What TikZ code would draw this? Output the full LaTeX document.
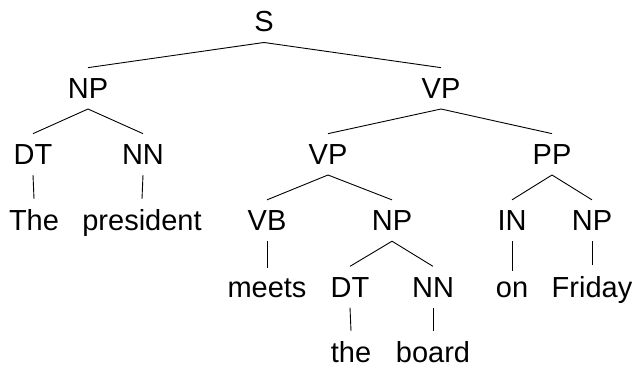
\documentclass[tikz,border=0pt]{standalone}
\usepackage{fontspec}
\setmainfont{Liberation Sans}
\begin{document}
\begin{tikzpicture}[x=1pt,y=1pt,
  lbl/.style={anchor=base,inner sep=10.5pt,font=\fontsize{29}{31}\selectfont},
  edge/.style={line width=0.9pt}]
\useasboundingbox (0,0) rectangle (634,365);
% rows (baselines in y)
\def\ra{333.5}\def\rb{266.7}\def\rc{200.7}\def\rd{134.5}\def\re{68}\def\rf{2.5}
\node[lbl] (S) at (264,\ra) {S};
\node[lbl] (NP) at (88,\rb) {NP};
\node[lbl] (VP) at (441,\rb) {VP};
\node[lbl] (DT) at (33,\rc) {DT};
\node[lbl] (NN) at (143,\rc) {NN};
\node[lbl] (VPb) at (328,\rc) {VP};
\node[lbl] (PP) at (552,\rc) {PP};
\node[lbl] (The) at (34,\rd) {The};
\node[lbl] (pres) at (142,\rd) {president};
\node[lbl] (VB) at (267,\rd) {VB};
\node[lbl] (NPb) at (392,\rd) {NP};
\node[lbl] (IN) at (512,\rd) {IN};
\node[lbl] (NPc) at (592,\rd) {NP};
\node[lbl] (meets) at (267,\re) {meets};
\node[lbl] (DTb) at (350,\re) {DT};
\node[lbl] (NNb) at (433,\re) {NN};
\node[lbl] (on) at (512,\re) {on};
\node[lbl] (Friday) at (592,\re) {Friday};
\node[lbl] (the) at (351,\rf) {the};
\node[lbl] (board) at (433,\rf) {board};
\foreach \p/\c in {S/NP,S/VP,NP/DT,NP/NN,DT/The,NN/pres,VP/VPb,VP/PP,
  VPb/VB,VPb/NPb,PP/IN,PP/NPc,VB/meets,NPb/DTb,NPb/NNb,IN/on,NPc/Friday,
  DTb/the,NNb/board}
  \draw[edge] (\p.south) -- (\c.north);
\end{tikzpicture}
\end{document}
